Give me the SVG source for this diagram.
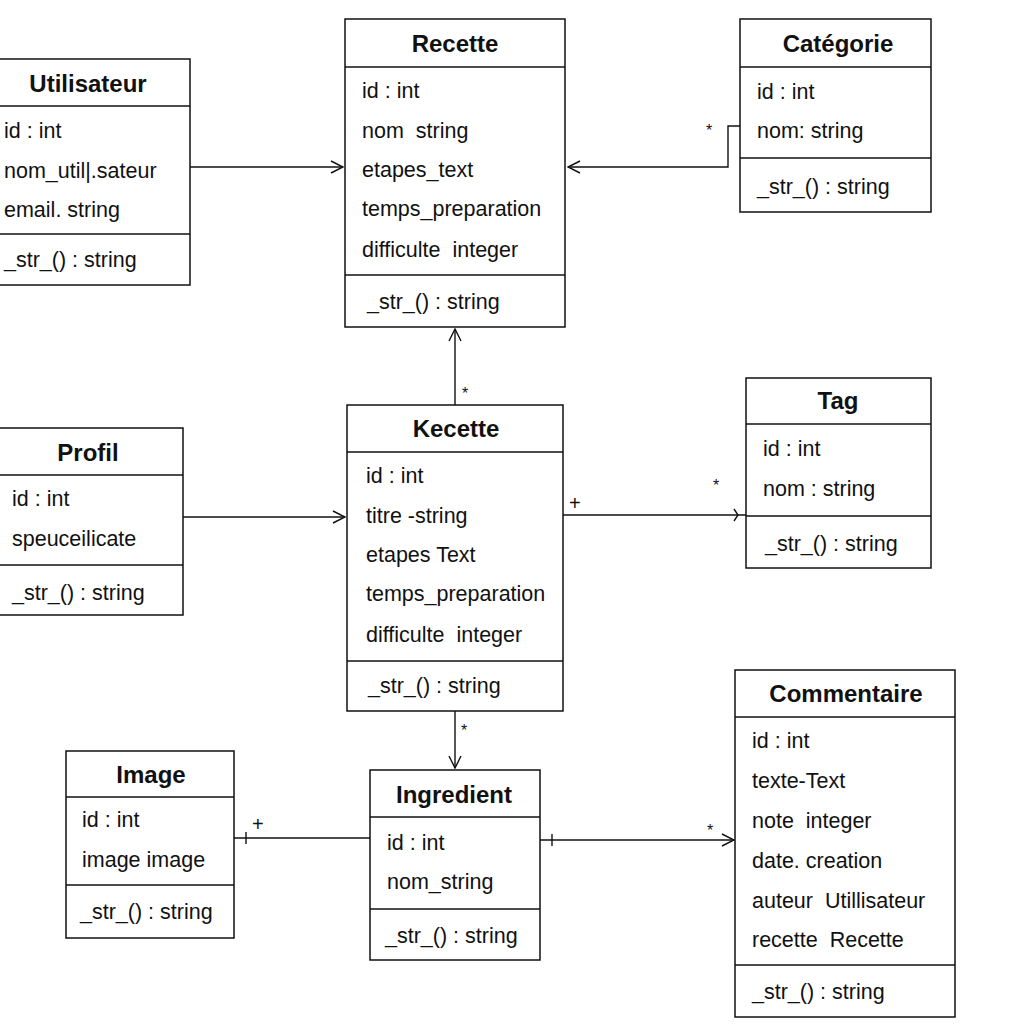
<svg xmlns="http://www.w3.org/2000/svg" width="1024" height="1024" viewBox="0 0 1024 1024">
  <defs>
    <style>
      .box { fill: #ffffff; stroke: #111111; stroke-width: 1.5; }
      .sep { stroke: #111111; stroke-width: 1.5; }
      .title { font-family: "Liberation Sans", Arial, sans-serif; font-size: 24px; font-weight: bold; fill: #111111; text-anchor: middle; }
      .attr { font-family: "Liberation Sans", Arial, sans-serif; font-size: 21.5px; fill: #111111; white-space: pre; }
      .conn { fill: none; stroke: #111111; stroke-width: 1.4; }
      .mult { font-family: "Liberation Sans", Arial, sans-serif; font-size: 16px; fill: #111111; }
      .plus { font-family: "Liberation Sans", Arial, sans-serif; font-size: 20px; fill: #111111; }
    </style>
    <marker id="open" viewBox="0 0 14 14" refX="13" refY="7" markerWidth="14" markerHeight="14" markerUnits="userSpaceOnUse" orient="auto">
      <path d="M1,1 L13,7 L1,13" fill="none" stroke="#111111" stroke-width="1.4"/>
    </marker>
  </defs>
  <rect width="1024" height="1024" fill="#ffffff"/>

  <!-- associations -->
  <g id="connectors">
    <line class="conn" x1="190" y1="167" x2="343" y2="167" marker-end="url(#open)"/>
    <path class="conn" d="M740,126 L728,126 L728,167 L568,167" marker-end="url(#open)"/>
    <text class="mult" x="706" y="136">*</text>
    <line class="conn" x1="455" y1="405" x2="455" y2="329" marker-end="url(#open)"/>
    <text class="mult" x="462" y="399">*</text>
    <line class="conn" x1="183" y1="517" x2="345" y2="517" marker-end="url(#open)"/>
    <line class="conn" x1="563" y1="515" x2="746" y2="515"/>
    <path class="conn" d="M734,509 L738,515 L734,521"/>
    <text class="plus" x="569" y="510">+</text>
    <text class="mult" x="713" y="491">*</text>
    <line class="conn" x1="455" y1="711" x2="455" y2="768" marker-end="url(#open)"/>
    <text class="mult" x="461" y="736">*</text>
    <line class="conn" x1="234" y1="838" x2="370" y2="838"/>
    <path class="conn" d="M246,832 L246,844"/>
    <text class="plus" x="252" y="831">+</text>
    <line class="conn" x1="540" y1="840" x2="734" y2="840" marker-end="url(#open)"/>
    <path class="conn" d="M552,834 L552,846"/>
    <text class="mult" x="707" y="836">*</text>
  </g>

  <g id="utilisateur">
    <rect class="box" x="-2" y="59" width="192" height="226"/>
    <line class="sep" x1="-2" y1="106" x2="190" y2="106"/>
    <line class="sep" x1="-2" y1="234" x2="190" y2="234"/>
    <text class="title" x="88" y="92">Utilisateur</text>
    <text class="attr" x="4" y="138">id : int</text>
    <text class="attr" x="4" y="178">nom_util|.sateur</text>
    <text class="attr" x="4" y="217">email. string</text>
    <text class="attr" x="4" y="267">_str_() : string</text>
  </g>

  <g id="recette-top">
    <rect class="box" x="345" y="19" width="220" height="308"/>
    <line class="sep" x1="345" y1="67" x2="565" y2="67"/>
    <line class="sep" x1="345" y1="275" x2="565" y2="275"/>
    <text class="title" x="455" y="52">Recette</text>
    <text class="attr" x="362" y="98">id : int</text>
    <text class="attr" x="362" y="138">nom  string</text>
    <text class="attr" x="362" y="177">etapes_text</text>
    <text class="attr" x="362" y="216">temps_preparation</text>
    <text class="attr" x="362" y="257">difficulte  integer</text>
    <text class="attr" x="367" y="309">_str_() : string</text>
  </g>

  <g id="categorie">
    <rect class="box" x="740" y="19" width="191" height="193"/>
    <line class="sep" x1="740" y1="67" x2="931" y2="67"/>
    <line class="sep" x1="740" y1="158" x2="931" y2="158"/>
    <text class="title" x="838" y="52">Catégorie</text>
    <text class="attr" x="757" y="99">id : int</text>
    <text class="attr" x="757" y="138">nom: string</text>
    <text class="attr" x="757" y="194">_str_() : string</text>
  </g>

  <g id="profil">
    <rect class="box" x="-2" y="428" width="185" height="187"/>
    <line class="sep" x1="-2" y1="475" x2="183" y2="475"/>
    <line class="sep" x1="-2" y1="565" x2="183" y2="565"/>
    <text class="title" x="88" y="461">Profil</text>
    <text class="attr" x="12" y="506">id : int</text>
    <text class="attr" x="12" y="546">speuceilicate</text>
    <text class="attr" x="12" y="600">_str_() : string</text>
  </g>

  <g id="recette-mid">
    <rect class="box" x="347" y="405" width="216" height="306"/>
    <line class="sep" x1="347" y1="452" x2="563" y2="452"/>
    <line class="sep" x1="347" y1="661" x2="563" y2="661"/>
    <text class="title" x="456" y="437">Kecette</text>
    <text class="attr" x="366" y="483">id : int</text>
    <text class="attr" x="366" y="523">titre -string</text>
    <text class="attr" x="366" y="562">etapes Text</text>
    <text class="attr" x="366" y="601">temps_preparation</text>
    <text class="attr" x="366" y="642">difficulte  integer</text>
    <text class="attr" x="368" y="693">_str_() : string</text>
  </g>

  <g id="tag">
    <rect class="box" x="746" y="378" width="185" height="190"/>
    <line class="sep" x1="746" y1="424" x2="931" y2="424"/>
    <line class="sep" x1="746" y1="516" x2="931" y2="516"/>
    <text class="title" x="838" y="409">Tag</text>
    <text class="attr" x="763" y="456">id : int</text>
    <text class="attr" x="763" y="496">nom : string</text>
    <text class="attr" x="765" y="551">_str_() : string</text>
  </g>

  <g id="image">
    <rect class="box" x="66" y="751" width="168" height="187"/>
    <line class="sep" x1="66" y1="797" x2="234" y2="797"/>
    <line class="sep" x1="66" y1="885" x2="234" y2="885"/>
    <text class="title" x="151" y="783">Image</text>
    <text class="attr" x="82" y="827">id : int</text>
    <text class="attr" x="82" y="867">image image</text>
    <text class="attr" x="80" y="919">_str_() : string</text>
  </g>

  <g id="ingredient">
    <rect class="box" x="370" y="770" width="170" height="190"/>
    <line class="sep" x1="370" y1="817" x2="540" y2="817"/>
    <line class="sep" x1="370" y1="909" x2="540" y2="909"/>
    <text class="title" x="454" y="803">Ingredient</text>
    <text class="attr" x="387" y="850">id : int</text>
    <text class="attr" x="387" y="889">nom_string</text>
    <text class="attr" x="385" y="943">_str_() : string</text>
  </g>

  <g id="commentaire">
    <rect class="box" x="735" y="670" width="220" height="347"/>
    <line class="sep" x1="735" y1="717" x2="955" y2="717"/>
    <line class="sep" x1="735" y1="965" x2="955" y2="965"/>
    <text class="title" x="846" y="702">Commentaire</text>
    <text class="attr" x="752" y="748">id : int</text>
    <text class="attr" x="752" y="788">texte-Text</text>
    <text class="attr" x="752" y="828">note  integer</text>
    <text class="attr" x="752" y="868">date. creation</text>
    <text class="attr" x="752" y="908">auteur  Utillisateur</text>
    <text class="attr" x="752" y="947">recette  Recette</text>
    <text class="attr" x="752" y="999">_str_() : string</text>
  </g>
</svg>
